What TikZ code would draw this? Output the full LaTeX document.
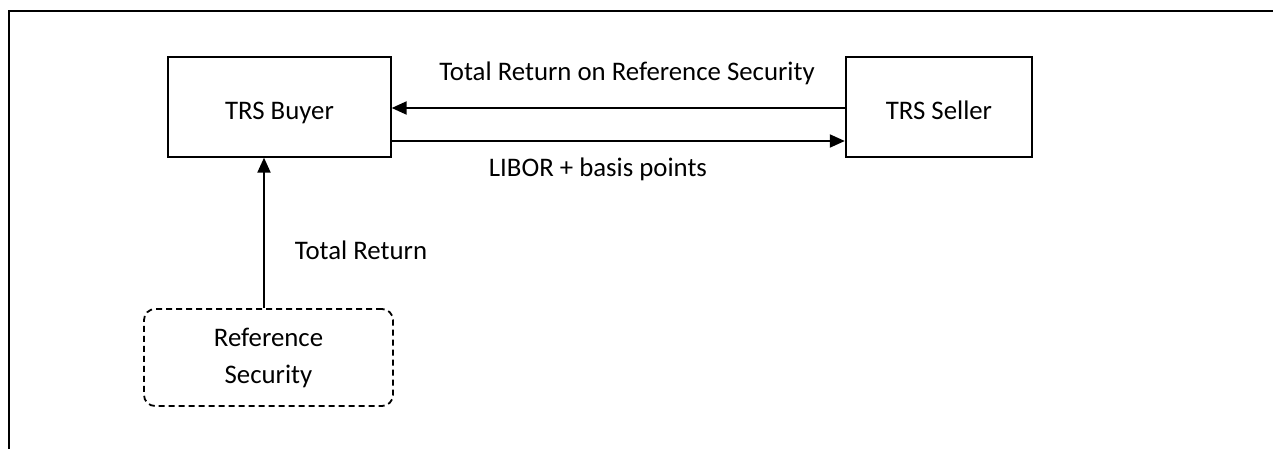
\documentclass[tikz,border=0pt]{standalone}
\usepackage{fontspec}
\setmainfont{Carlito}
\usetikzlibrary{arrows.meta}
\begin{document}
\begin{tikzpicture}[x=1pt,y=-1pt,
  every node/.style={font=\fontsize{26.8}{37}\selectfont, text=black},
  partybox/.style={draw=black, rectangle, inner sep=0pt, text height=30pt, text depth=4pt},
  refbox/.style={draw=black, line width=1.8pt, dash pattern=on 6pt off 4pt, rounded corners=11pt, align=center, inner sep=0pt},
  flow/.style={line width=2pt, -{Triangle[length=15pt,width=13pt]}},
  lbl/.style={anchor=base, inner sep=0pt}]
\useasboundingbox (0,0) rectangle (1273,449);
% outer frame (only top and left visible)
\coordinate (ftl) at (9,11);
\coordinate (ftr) at (1273,11);
\coordinate (fbl) at (9,449);
\draw[line width=2.8pt] (ftr) -- (ftl) -- (fbl);
% boxes
\node[partybox, line width=1.3pt, minimum width=223pt, minimum height=100pt] (buyer) at (279.5,107) {TRS Buyer};
\node[partybox, line width=2.4pt, minimum width=186pt, minimum height=100pt] (seller) at (939,107) {TRS Seller};
\node[refbox, minimum width=249pt, minimum height=97pt] (ref) at (268.5,357.5) {Reference\\Security};
% flows
\draw[flow] ([yshift=-1pt]seller.west) -- ([yshift=-1pt]seller.west -| buyer.east);
\draw[flow] ([yshift=-34pt]buyer.east) -- ([yshift=-34pt]buyer.east -| seller.west);
\draw[flow] ([xshift=-4.5pt]ref.north) -- ([xshift=-4.5pt]ref.north |- buyer.south);
% labels
\node[lbl] (l1) at (627,81) {Total Return on Reference Security};
\node[lbl] (l2) at (598,176) {LIBOR + basis points};
\node[lbl] (l3) at (361,259) {Total Return};
\end{tikzpicture}
\end{document}
